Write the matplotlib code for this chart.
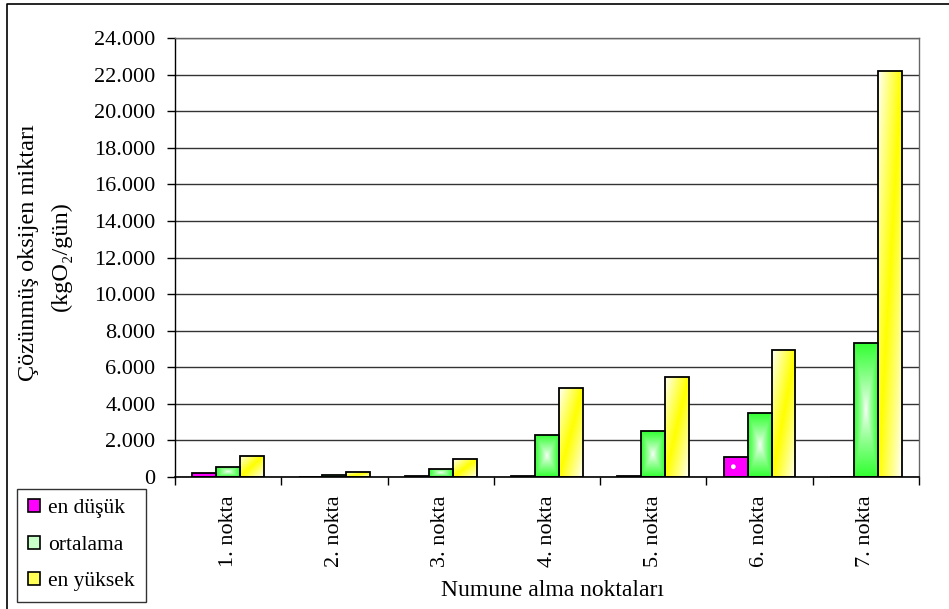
import numpy as np
import matplotlib
matplotlib.use("Agg")
import matplotlib.pyplot as plt
from matplotlib.patches import Patch
from matplotlib.lines import Line2D
from matplotlib.ticker import FuncFormatter, MultipleLocator, FixedLocator
from matplotlib.colors import to_rgb

plt.rcParams['font.family'] = ['Liberation Serif', 'DejaVu Serif']
plt.rcParams['hatch.linewidth'] = 1.0

categories = ["1. nokta", "2. nokta", "3. nokta", "4. nokta", "5. nokta", "6. nokta", "7. nokta"]
en_dusuk = [230, 0, 80, 60, 60, 1070, 0]
ortalama = [560, 100, 440, 2300, 2510, 3490, 7340]
en_yuksek = [1160, 250, 970, 4880, 5480, 6930, 22200]
series_names = ["en düşük", "ortalama", "en yüksek"]

PINK = "#ff00ff"
GREEN = "#33ff33"
YELLOW = "#ffff00"

fig = plt.figure(figsize=(9.49, 6.09), dpi=100)
ax = fig.add_axes([175 / 949, 1 - 477 / 609, 744 / 949, 439 / 609])

x = np.arange(len(categories))
width = 0.225
offsets = [-width, 0.0, width]


def grad_green(n=64):
    # white centre fading out to green towards every edge
    u = np.linspace(-1, 1, n)
    uu, vv = np.meshgrid(u, u)
    t = np.maximum(np.abs(uu), np.abs(vv)) ** 0.8
    g = np.array(to_rgb(GREEN))
    return (1 - t)[..., None] * np.ones(3) + t[..., None] * g


def grad_yellow(n=64):
    # diagonal band: white corners, yellow along the rising diagonal
    u = np.linspace(0, 1, n)
    uu, vv = np.meshgrid(u, u)
    s = (uu - vv + 1) / 2
    t = np.clip(1 - np.abs(s - 0.5) * 2, 0, 1) ** 0.9
    y = np.array(to_rgb(YELLOW))
    return (1 - t)[..., None] * np.ones(3) + t[..., None] * y


img_green = grad_green()
img_yellow = grad_yellow()

for vals, off, kind in zip([en_dusuk, ortalama, en_yuksek], offsets, ["pink", "green", "yellow"]):
    if kind == "pink":
        ax.bar(x + off, vals, width, facecolor=PINK, edgecolor="none",
               linewidth=0, zorder=2)
        ax.bar(x + off, vals, width, facecolor="none", edgecolor="white",
               linewidth=0, hatch=".", zorder=2.5)
        ax.bar(x + off, vals, width, facecolor="none", edgecolor="black",
               linewidth=1.3, zorder=3)
    else:
        bars = ax.bar(x + off, vals, width, facecolor="none", edgecolor="black",
                      linewidth=1.3, zorder=3)
        img = img_green if kind == "green" else img_yellow
        for b in bars:
            h = b.get_height()
            if h <= 0:
                continue
            x0 = b.get_x()
            w = b.get_width()
            im = ax.imshow(img, extent=[x0, x0 + w, 0, h], origin="lower",
                           aspect="auto", zorder=2, interpolation="bilinear")
            im.set_clip_path(b)

ax.set_xlim(-0.5, len(categories) - 0.5)
ax.set_ylim(0, 24000)

ax.yaxis.set_major_locator(MultipleLocator(2000))
ax.yaxis.set_major_formatter(FuncFormatter(lambda v, p: f"{int(round(v)):,}".replace(",", ".")))
ax.grid(axis="y", color="#333333", linewidth=1.0, zorder=0)
ax.set_axisbelow(True)

ax.set_xticks(x)
ax.set_xticklabels(categories, rotation=90, va="top", ha="center")
ax.xaxis.set_minor_locator(FixedLocator(np.arange(-0.5, len(categories), 1.0)))
ax.tick_params(axis="x", which="major", length=0, pad=13, labelsize=16)
ax.tick_params(axis="x", which="minor", length=6, width=1, color="black", direction="out")
ax.tick_params(axis="y", which="major", length=6, width=1, direction="out", pad=8, labelsize=16)

for side in ["top", "right"]:
    ax.spines[side].set_color("#666666")
    ax.spines[side].set_linewidth(1.0)
ax.spines["left"].set_linewidth(1.0)
ax.spines["bottom"].set_linewidth(1.2)

fig.text(29 / 949, 1 - 253 / 609, "Çözünmüş oksijen miktarı", rotation=90,
         ha="center", va="center", fontsize=17.5)
fig.text(61 / 949, 1 - 256 / 609, "(kgO₂/gün)", rotation=90,
         ha="center", va="center", fontsize=17.5)
fig.text(552 / 949, 1 - 590 / 609, "Numune alma noktaları", ha="center", va="center",
         fontsize=17)

handles = [Patch(facecolor=PINK, edgecolor="black", linewidth=1.2),
           Patch(facecolor="#c8ffc8", edgecolor="black", linewidth=1.2),
           Patch(facecolor="#ffff55", edgecolor="black", linewidth=1.2)]
leg = fig.legend(handles, series_names, loc="lower left",
                 bbox_to_anchor=(17 / 949, 1 - 602 / 609), frameon=True,
                 fancybox=False, edgecolor="black", fontsize=15.5,
                 handlelength=0.56, handleheight=0.56, handletextpad=0.4,
                 labelspacing=0.8, borderpad=0.5, borderaxespad=0)
leg.get_frame().set_linewidth(1.0)

# outer chart border (left and top edges)
fig.lines.append(Line2D([7 / 949, 7 / 949, 1.0], [0.0, 1 - 4 / 609, 1 - 4 / 609],
                        transform=fig.transFigure, color="black", linewidth=1.2))

fig.savefig("out.png", dpi=100)
